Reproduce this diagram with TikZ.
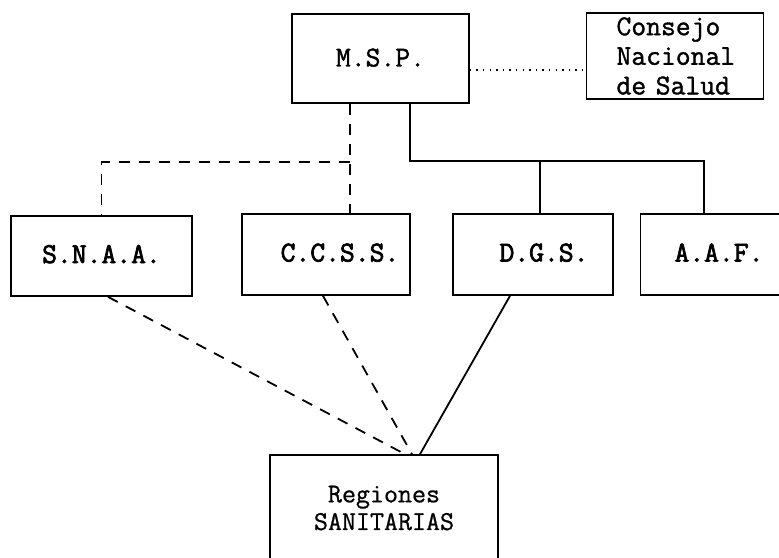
\documentclass[tikz,border=0pt]{standalone}
\usepackage{fontspec}
\newfontfamily\typefont{Latin Modern Mono}[FakeBold=1.3]
\newfontfamily\lightfont{Latin Modern Mono}[FakeBold=0.8]
\newfontfamily\heavyfont{Latin Modern Mono}[FakeBold=2.6]
\begin{document}
\begin{tikzpicture}[x=0.5pt,y=-0.5pt,
  box/.style={draw,line width=0.85pt,inner sep=0pt,align=center,
    font=\typefont\fontsize{14.4}{12.5}\selectfont\bfseries},
  heavy/.style={font=\heavyfont\fontsize{14.4}{12.5}\selectfont\bfseries},
  conn/.style={line width=0.9pt},
  dashconn/.style={line width=0.9pt,dash pattern=on 5.5pt off 4.5pt},
  dotconn/.style={line width=0.7pt,dash pattern=on 0.7pt off 2.6pt}]
\useasboundingbox[fill=white] (0,0) rectangle (779,557);
% boxes
\node[box,minimum width=88.5pt,minimum height=44.5pt] (MSP) at (380.5,58.5) {\raisebox{1pt}{M.S.P.}};
\node[box,minimum width=88.5pt,minimum height=43pt,
  text width=88.5pt,align=left,font=\typefont\fontsize{14.4}{14.8}\selectfont\bfseries] (CNS) at (675,56)
  {\hspace*{15pt}Consejo\\\hspace*{15pt}Nacional\\\hspace*{15pt}de Salud};
\node[box,heavy,minimum width=90.5pt,minimum height=40pt] (SNAA) at (101.5,256) {\raisebox{2pt}{S.N.A.A.}};
\node[box,heavy,minimum width=84pt,minimum height=40.5pt] (CCSS) at (326,254.5) {\hspace*{14pt}\raisebox{2pt}{C.C.S.S.}};
\node[box,heavy,minimum width=80pt,minimum height=40.5pt] (DGS) at (533,254.5) {\hspace*{11pt}\raisebox{2pt}{D.G.S.}};
\node[box,heavy,minimum width=70.5pt,minimum height=40.5pt] (AAF) at (711,254.5) {\hspace*{8pt}\raisebox{2pt}{A.A.F.}};
\node[box,minimum width=114pt,minimum height=53pt,
  font=\lightfont\fontsize{13.6}{13.8}\selectfont\bfseries] (REG) at (384,508) {Regiones\\SANITARIAS};
% dotted link
\draw[dotconn] ([yshift=-5.75pt]MSP.east) -- ([yshift=-5.75pt]MSP.east -| CNS.west);
% dashed tree
\coordinate (jd) at (350,162);
\draw[dashconn] (jd |- MSP.south) -- (jd |- CCSS.north);
\draw[dashconn] (jd) -| (SNAA.north);
% solid tree
\coordinate (js) at (410,161);
\coordinate (ja) at (704,161);
\coordinate (jg) at (540,161);
\draw[conn] (js |- MSP.south) -- (js) -- (ja) -- (ja |- AAF.north);
\draw[conn] (jg) -- (jg |- DGS.north);
% to regions
\draw[dashconn] ([xshift=3.25pt]SNAA.south) -- ([xshift=10.5pt]REG.north);
\draw[dashconn] ([xshift=-1.5pt]CCSS.south) -- ([xshift=14pt]REG.north);
\draw[conn] ([xshift=-11.5pt]DGS.south) -- ([xshift=18pt]REG.north);
\end{tikzpicture}
\end{document}
